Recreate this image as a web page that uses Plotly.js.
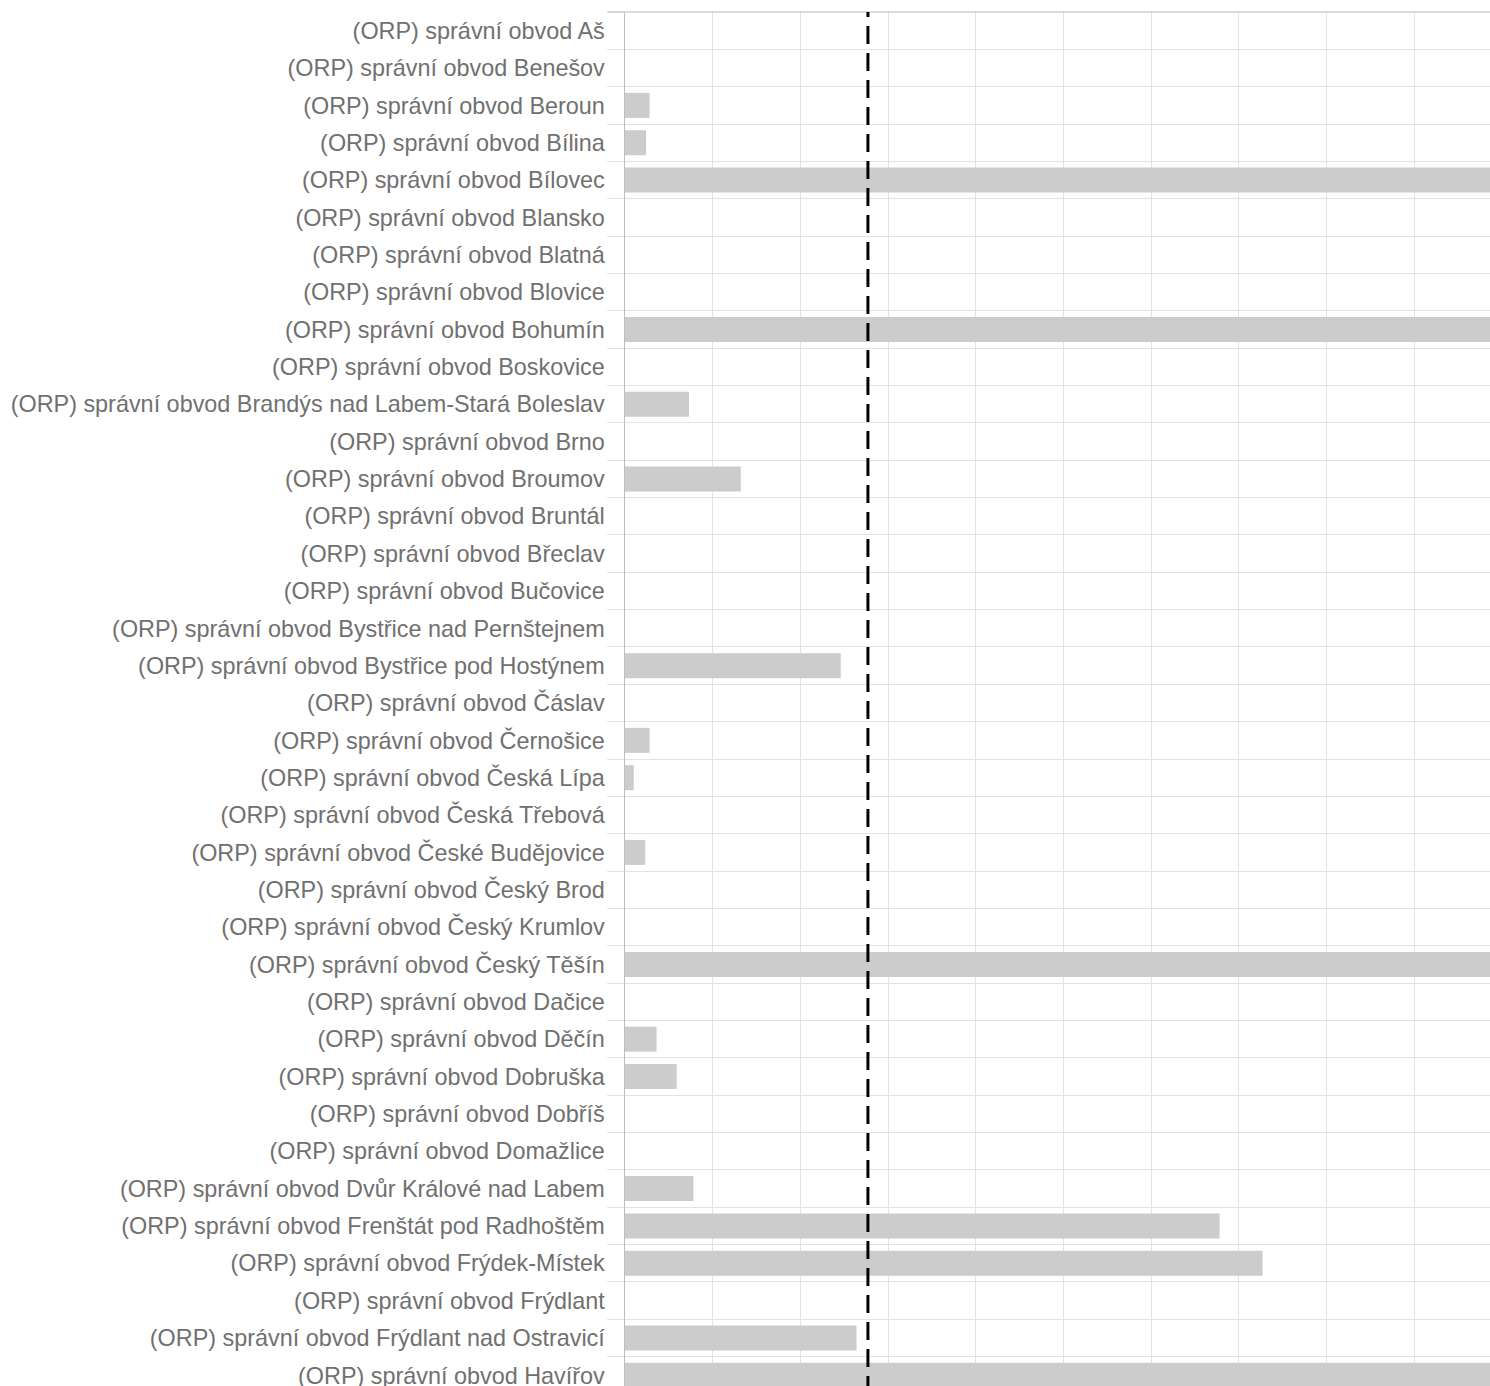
<!DOCTYPE html>
<html>
<head>
<meta charset="utf-8">
<script src="https://cdn.plot.ly/plotly-3.0.1.min.js"></script>
<style>
html, body { margin: 0; padding: 0; overflow: hidden; background: #fff; }
#chart { width: 1510px; height: 1405px; }
</style>
</head>
<body>
<div id="chart"></div>
<script>
const categories = [
  "(ORP) správní obvod Aš",
  "(ORP) správní obvod Benešov",
  "(ORP) správní obvod Beroun",
  "(ORP) správní obvod Bílina",
  "(ORP) správní obvod Bílovec",
  "(ORP) správní obvod Blansko",
  "(ORP) správní obvod Blatná",
  "(ORP) správní obvod Blovice",
  "(ORP) správní obvod Bohumín",
  "(ORP) správní obvod Boskovice",
  "(ORP) správní obvod Brandýs nad Labem-Stará Boleslav",
  "(ORP) správní obvod Brno",
  "(ORP) správní obvod Broumov",
  "(ORP) správní obvod Bruntál",
  "(ORP) správní obvod Břeclav",
  "(ORP) správní obvod Bučovice",
  "(ORP) správní obvod Bystřice nad Pernštejnem",
  "(ORP) správní obvod Bystřice pod Hostýnem",
  "(ORP) správní obvod Čáslav",
  "(ORP) správní obvod Černošice",
  "(ORP) správní obvod Česká Lípa",
  "(ORP) správní obvod Česká Třebová",
  "(ORP) správní obvod České Budějovice",
  "(ORP) správní obvod Český Brod",
  "(ORP) správní obvod Český Krumlov",
  "(ORP) správní obvod Český Těšín",
  "(ORP) správní obvod Dačice",
  "(ORP) správní obvod Děčín",
  "(ORP) správní obvod Dobruška",
  "(ORP) správní obvod Dobříš",
  "(ORP) správní obvod Domažlice",
  "(ORP) správní obvod Dvůr Králové nad Labem",
  "(ORP) správní obvod Frenštát pod Radhoštěm",
  "(ORP) správní obvod Frýdek-Místek",
  "(ORP) správní obvod Frýdlant",
  "(ORP) správní obvod Frýdlant nad Ostravicí",
  "(ORP) správní obvod Havířov"
];

const values = [
  0, 0, 2.8, 2.4, 120, 0, 0, 0, 120, 0,
  7.3, 0, 13.2, 0, 0, 0, 0, 24.6, 0, 2.8,
  1.0, 0, 2.3, 0, 0, 120, 0, 3.6, 5.9, 0,
  0, 7.8, 67.8, 72.7, 0, 26.4, 120
];

const referenceValue = [27.7];

const trace = {
  type: "bar",
  orientation: "h",
  y: categories,
  x: values,
  marker: { color: "#cccccc" },
  hoverinfo: "x+y"
};

const labelFont = { family: "Arial", size: 23.4, color: "#707070" };

const layout = {
  width: 1510,
  height: 1405,
  margin: { l: 624.5, r: 8, t: 12, b: 10.7 },
  paper_bgcolor: "#ffffff",
  plot_bgcolor: "#ffffff",
  bargap: 0.33,
  showlegend: false,
  font: labelFont,
  xaxis: {
    range: [0, 100],
    dtick: 10,
    tick0: 0,
    showticklabels: false,
    showgrid: true,
    gridcolor: "#e3e3e3",
    gridwidth: 1,
    zeroline: false,
    showline: false,
    ticks: ""
  },
  yaxis: {
    type: "category",
    autorange: "reversed",
    tickson: "boundaries",
    ticks: "outside",
    ticklen: 17,
    tickcolor: "#e3e3e3",
    tickwidth: 1,
    ticklabelstandoff: 14,
    showgrid: true,
    gridcolor: "#e3e3e3",
    gridwidth: 1,
    showline: true,
    linecolor: "#bdbdbd",
    linewidth: 1.5,
    tickfont: labelFont,
    automargin: false
  },
  shapes: [
    {
      type: "line",
      xref: "paper",
      yref: "paper",
      x0: -0.02, x1: 1, y0: 1, y1: 1,
      line: { color: "#cfcfcf", width: 1.5 }
    },
    {
      type: "line",
      xref: "x",
      yref: "paper",
      x0: referenceValue[0], x1: referenceValue[0],
      y0: 0, y1: 1,
      line: { color: "#000000", width: 3, dash: "18px,9px" }
    }
  ]
};

Plotly.newPlot("chart", [trace], layout, { displayModeBar: false, staticPlot: true });
</script>
</body>
</html>
